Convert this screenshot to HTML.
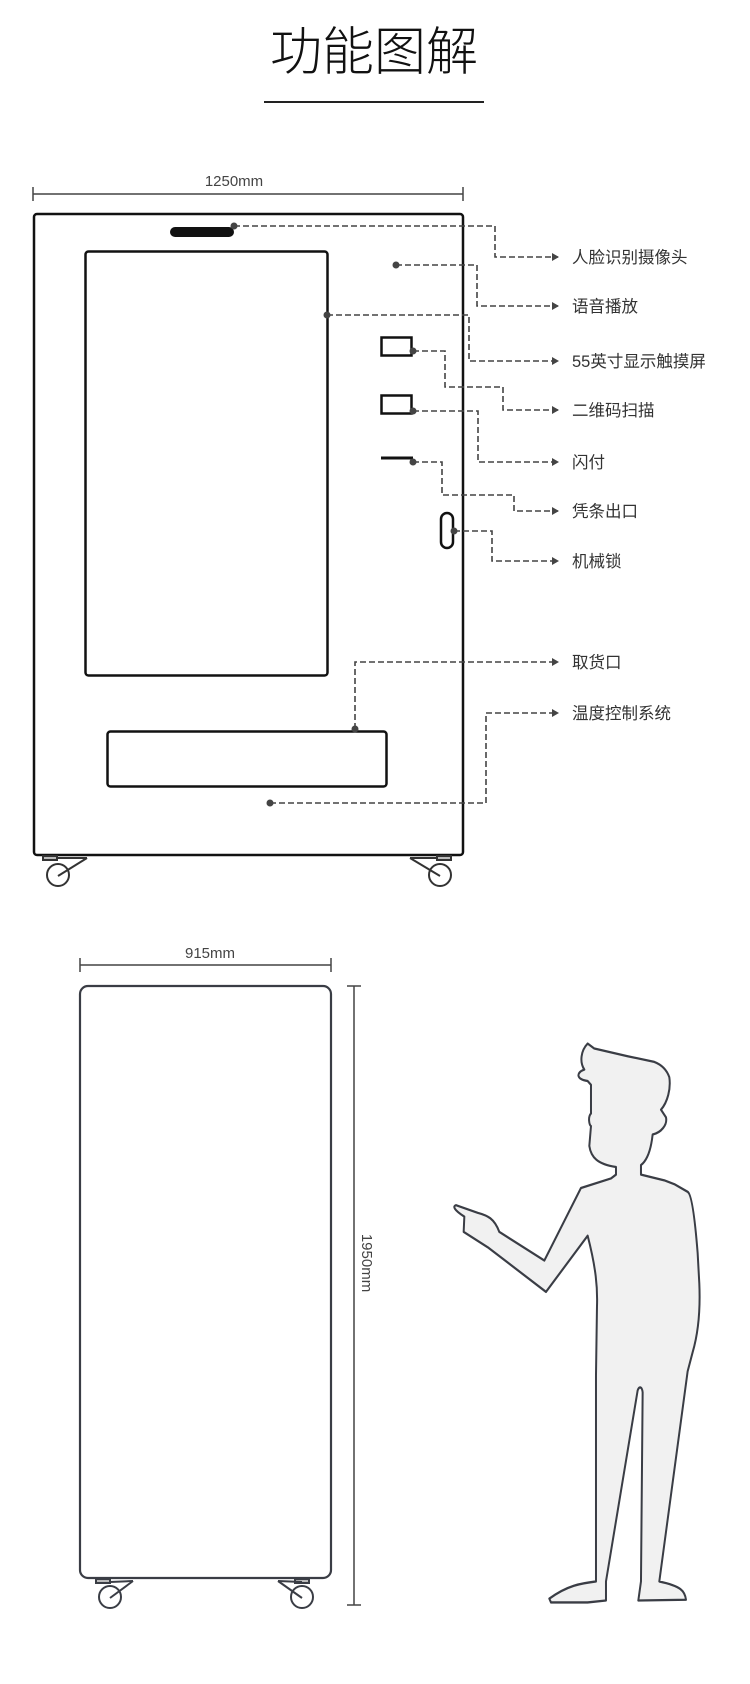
<!DOCTYPE html>
<html><head><meta charset="utf-8"><style>
html,body{margin:0;padding:0;background:#fff;}
svg{display:block;}
text{font-family:"Liberation Sans","Noto Sans CJK SC",sans-serif;}
</style></head><body>
<svg width="750" height="1684" viewBox="0 0 750 1684" xmlns="http://www.w3.org/2000/svg">
<defs>
<marker id="ar" markerWidth="8" markerHeight="8" refX="6" refY="4" orient="auto" markerUnits="userSpaceOnUse"><path d="M0,0 L7,4 L0,8 Z" fill="#444"/></marker>
</defs>
<text x="374" y="70" font-size="52" text-anchor="middle" fill="#111" style="font-family:'Noto Sans CJK SC',sans-serif;font-weight:300">功能图解</text>
<line x1="264" y1="102" x2="484" y2="102" stroke="#222" stroke-width="2"/>

<text x="234" y="186" font-size="15" text-anchor="middle" fill="#444">1250mm</text>
<line x1="33" y1="194" x2="463" y2="194" stroke="#444" stroke-width="1.5"/>
<line x1="33" y1="187" x2="33" y2="201" stroke="#444" stroke-width="1.5"/>
<line x1="463" y1="187" x2="463" y2="201" stroke="#444" stroke-width="1.5"/>

<rect x="34" y="214" width="429" height="641" rx="3" fill="#fff" stroke="#111" stroke-width="2.5"/>
<rect x="170" y="227" width="64" height="10" rx="5" fill="#111"/>
<rect x="85.5" y="251.5" width="242" height="424" rx="3" fill="#fff" stroke="#111" stroke-width="2.5"/>
<rect x="381.5" y="337.5" width="30" height="18" fill="#fff" stroke="#111" stroke-width="2.5"/>
<rect x="381.5" y="395.5" width="30" height="18" fill="#fff" stroke="#111" stroke-width="2.5"/>
<line x1="381" y1="458" x2="413" y2="458" stroke="#111" stroke-width="3"/>
<rect x="441" y="513" width="12" height="35" rx="6" fill="#fff" stroke="#111" stroke-width="2.5"/>
<rect x="107.5" y="731.5" width="279" height="55" rx="3" fill="#fff" stroke="#111" stroke-width="2.5"/>

<g stroke="#333" stroke-width="2" fill="none">
<rect x="43" y="856" width="14" height="4" fill="#bbb"/>
<line x1="58" y1="858" x2="87" y2="858"/>
<line x1="87" y1="858" x2="58" y2="876"/>
<circle cx="58" cy="875" r="11"/>
<rect x="437" y="856" width="14" height="4" fill="#bbb"/>
<line x1="410" y1="858" x2="438" y2="858"/>
<line x1="410" y1="858" x2="440" y2="876"/>
<circle cx="440" cy="875" r="11"/>
</g>

<g stroke="#444" stroke-width="1.6" fill="none" stroke-dasharray="6,3">
<polyline points="234,226 495,226 495,257 558,257" marker-end="url(#ar)"/>
<polyline points="396,265 477,265 477,306 558,306" marker-end="url(#ar)"/>
<polyline points="327,315 469,315 469,361 558,361" marker-end="url(#ar)"/>
<polyline points="413,351 445,351 445,387 503,387 503,410 558,410" marker-end="url(#ar)"/>
<polyline points="413,411 478,411 478,462 558,462" marker-end="url(#ar)"/>
<polyline points="413,462 442,462 442,495 514,495 514,511 558,511" marker-end="url(#ar)"/>
<polyline points="454,531 492,531 492,561 558,561" marker-end="url(#ar)"/>
<polyline points="355,729 355,662 558,662" marker-end="url(#ar)"/>
<polyline points="270,803 486,803 486,713 558,713" marker-end="url(#ar)"/>
</g>
<g fill="#444">
<circle cx="234" cy="226" r="3.5"/><circle cx="396" cy="265" r="3.5"/><circle cx="327" cy="315" r="3.5"/>
<circle cx="413" cy="351" r="3.5"/><circle cx="413" cy="411" r="3.5"/><circle cx="413" cy="462" r="3.5"/>
<circle cx="454" cy="531" r="3.5"/><circle cx="355" cy="729" r="3.5"/><circle cx="270" cy="803" r="3.5"/>
</g>
<g font-size="16.5" fill="#333">
<text x="572" y="263">人脸识别摄像头</text>
<text x="572" y="312">语音播放</text>
<text x="572" y="367">55英寸显示触摸屏</text>
<text x="572" y="416">二维码扫描</text>
<text x="572" y="468">闪付</text>
<text x="572" y="517">凭条出口</text>
<text x="572" y="567">机械锁</text>
<text x="572" y="668">取货口</text>
<text x="572" y="719">温度控制系统</text>
</g>

<text x="210" y="958" font-size="15" text-anchor="middle" fill="#444">915mm</text>
<line x1="80" y1="965" x2="331" y2="965" stroke="#444" stroke-width="1.5"/>
<line x1="80" y1="958" x2="80" y2="972" stroke="#444" stroke-width="1.5"/>
<line x1="331" y1="958" x2="331" y2="972" stroke="#444" stroke-width="1.5"/>
<rect x="80" y="986" width="251" height="592" rx="8" fill="#fff" stroke="#3a3d45" stroke-width="2.2"/>
<g stroke="#3a3d45" stroke-width="2" fill="none">
<rect x="96" y="1579" width="14" height="4" fill="#bbb"/>
<line x1="110" y1="1582" x2="133" y2="1581"/>
<line x1="133" y1="1581" x2="110" y2="1598"/>
<circle cx="110" cy="1597" r="11"/>
<rect x="295" y="1579" width="14" height="4" fill="#bbb"/>
<line x1="278" y1="1581" x2="302" y2="1582"/>
<line x1="278" y1="1581" x2="302" y2="1598"/>
<circle cx="302" cy="1597" r="11"/>
</g>
<line x1="354" y1="986" x2="354" y2="1605" stroke="#444" stroke-width="1.5"/>
<line x1="347" y1="986" x2="361" y2="986" stroke="#444" stroke-width="1.5"/>
<line x1="347" y1="1605" x2="361" y2="1605" stroke="#444" stroke-width="1.5"/>
<text x="0" y="0" font-size="15" fill="#444" text-anchor="middle" transform="translate(362,1263) rotate(90)">1950mm</text>

<g transform="translate(441,1039) scale(0.3333,0.382)">
<path d="M440,12 C420,30 415,60 430,80 C405,88 405,105 440,110 L450,120 L450,195 C440,205 445,225 450,228 L445,280 C450,310 470,328 525,335 L525,355 L510,365 L420,390 L310,580 L175,505 C160,470 140,462 110,455 L45,435 C35,438 38,447 70,465 L68,505 L140,545 L315,662 L440,515 C465,600 470,650 468,700 L465,880 L465,1420 C420,1425 380,1430 325,1465 L330,1475 L440,1475 L495,1470 L495,1420 L590,920 C595,908 603,910 605,925 L600,1420 L592,1470 L735,1468 C732,1445 720,1432 655,1420 L740,870 L755,820 C775,760 778,700 775,640 L770,560 C760,450 750,405 740,400 L700,380 L670,370 L600,355 L600,330 C618,318 630,290 635,250 C660,245 680,225 675,205 L660,185 C680,165 690,130 685,100 C675,75 655,65 640,60 L560,45 L460,25 Z" fill="#f1f1f1" stroke="#3a3d45" stroke-width="6" stroke-linejoin="round"/>
</g>
</svg>
</body></html>
